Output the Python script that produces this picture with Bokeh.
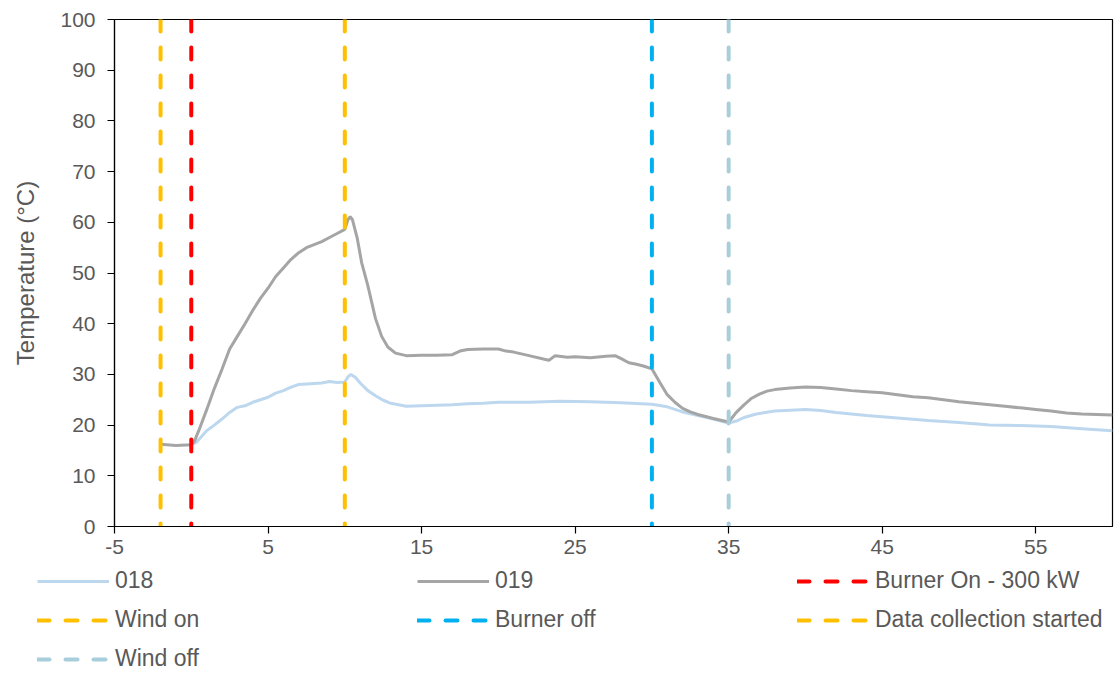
from bokeh.plotting import figure
from bokeh.layouts import column
from bokeh.models import FixedTicker, Legend, LegendItem, Range1d
from bokeh.embed import file_html
from bokeh.resources import INLINE

# ---- data ----
time_019 = [-2, -1, 0, 0.2, 0.5, 1, 1.5, 2, 2.5, 3, 3.5, 4, 4.5, 5, 5.5, 6, 6.5, 7, 7.5, 8,
            8.5, 9, 9.5, 10, 10.2, 10.35, 10.5, 10.8, 11.1, 11.5, 12, 12.4, 12.8, 13.3, 14,
            15, 16, 17, 17.5, 18, 19, 20, 20.5, 21, 22, 23, 23.3, 23.7, 24.5, 25, 26, 27,
            27.6, 28, 28.5, 29, 29.5, 30, 30.5, 31, 31.5, 32, 32.5, 33, 34, 35, 35.5, 36,
            36.5, 37, 37.5, 38, 39, 40, 41, 42, 43, 44, 45, 46, 47, 48, 49, 50, 51, 52, 53,
            54, 55, 56, 57, 58, 59, 60]
temp_019 = [16.2, 16.0, 16.1, 16.8, 19.0, 23.0, 27.2, 31.0, 35.0, 37.5, 40.0, 42.6, 45.0,
            47.0, 49.3, 51.0, 52.7, 54.0, 55.0, 55.6, 56.2, 57.0, 57.8, 58.6, 60.5, 61.1,
            60.5, 57.0, 52.0, 47.5, 41.0, 37.5, 35.4, 34.2, 33.7, 33.8, 33.8, 33.9, 34.6,
            34.9, 35.0, 35.0, 34.6, 34.4, 33.7, 33.0, 32.8, 33.7, 33.4, 33.5, 33.3, 33.6,
            33.7, 33.1, 32.3, 32.0, 31.6, 31.1, 28.5, 26.0, 24.5, 23.3, 22.6, 22.1, 21.3,
            20.6, 22.5, 24.0, 25.3, 26.1, 26.7, 27.0, 27.3, 27.5, 27.4, 27.1, 26.8, 26.6,
            26.4, 26.0, 25.6, 25.4, 25.0, 24.6, 24.3, 24.0, 23.7, 23.4, 23.1, 22.8, 22.4,
            22.2, 22.1, 22.0]

time_018 = [0, 0.3, 0.6, 1, 1.5, 2, 2.5, 3, 3.5, 4, 4.5, 5, 5.5, 6, 6.5, 7, 7.5, 8, 8.5, 9,
            9.5, 10, 10.2, 10.4, 10.7, 11, 11.5, 12, 12.5, 13, 14, 15, 16, 17, 18, 19, 20, 22,
            24, 26, 28, 30, 31, 32, 33, 34, 35, 35.5, 36, 36.8, 38, 40, 41, 42, 44, 46, 48,
            50, 52, 54, 56, 58, 60]
temp_018 = [16.3, 16.5, 17.5, 18.9, 20.0, 21.2, 22.5, 23.5, 23.8, 24.5, 25.0, 25.5, 26.3,
            26.8, 27.5, 28.0, 28.1, 28.2, 28.3, 28.6, 28.4, 28.5, 29.5, 30.0, 29.4, 28.3,
            26.8, 25.8, 24.9, 24.3, 23.7, 23.8, 23.9, 24.0, 24.2, 24.3, 24.5, 24.5, 24.7,
            24.6, 24.4, 24.1, 23.6, 22.6, 21.9, 21.2, 20.4, 20.8, 21.5, 22.2, 22.8, 23.1,
            22.9, 22.5, 21.9, 21.4, 20.9, 20.5, 20.0, 19.9, 19.7, 19.3, 18.9]

series_labels = ["018", "019"]
series_colors = ["#BDD7EE", "#A5A5A5"]

event_labels = ["Burner On - 300 kW", "Wind on", "Burner off", "Data collection started", "Wind off"]
event_times = [0, -2, 30, 10, 35]
event_colors = ["#FF0000", "#FFC000", "#00B0F0", "#FFC000", "#A9CEDB"]

x_ticks = [-5, 5, 15, 25, 35, 45, 55]
x_tick_labels = ["-5", "5", "15", "25", "35", "45", "55"]
y_ticks = [0, 10, 20, 30, 40, 50, 60, 70, 80, 90, 100]

FONT = "Liberation Sans"
TXT = "#595959"
DASH = "12 16"


def draw_series(fig):
    rs = [fig.line(time_018, temp_018, line_color=series_colors[0], line_width=3),
          fig.line(time_019, temp_019, line_color=series_colors[1], line_width=3)]
    es = []
    for t, c in zip(event_times, event_colors):
        es.append(fig.segment(x0=[t], y0=[100], x1=[t], y1=[0], line_color=c, line_width=4,
                              line_dash=DASH, line_cap="round"))
    return rs, es


# ---- main chart ----
p = figure(width=1118, height=561, output_backend="svg", toolbar_location=None,
           x_range=Range1d(-5, 60), y_range=Range1d(0, 100),
           min_border_left=114, min_border_top=19, min_border_right=6, min_border_bottom=35)
p.frame_align = False
p.grid.visible = False
p.outline_line_color = "#000000"
p.outline_line_width = 1.2
p.background_fill_color = "white"
p.border_fill_color = "white"

draw_series(p)

for ax in (p.xaxis[0], p.yaxis[0]):
    ax.axis_line_color = "#000000"
    ax.axis_line_width = 1.2
    ax.major_tick_line_color = "#000000"
    ax.major_tick_line_width = 1.2
    ax.major_tick_in = 0
    ax.major_tick_out = 7
    ax.minor_tick_line_color = None
    ax.major_label_text_font = FONT
    ax.major_label_text_font_size = "21px"
    ax.major_label_text_color = TXT

p.xaxis.ticker = FixedTicker(ticks=x_ticks)
p.xaxis.major_label_overrides = {t: s for t, s in zip(x_ticks, x_tick_labels)}
p.yaxis.ticker = FixedTicker(ticks=y_ticks)
p.xaxis.major_label_standoff = 6
p.yaxis.major_label_standoff = 12
p.yaxis.axis_label = "Temperature (°C)"
p.yaxis.axis_label_text_font = FONT
p.yaxis.axis_label_text_font_size = "24px"
p.yaxis.axis_label_text_font_style = "normal"
p.yaxis.axis_label_text_color = TXT
p.yaxis.axis_label_standoff = 18

# ---- legend strip: same series, drawn off-range so only the legend shows ----
lg = figure(width=1118, height=112, output_backend="svg", toolbar_location=None,
            x_axis_type=None, y_axis_type=None,
            min_border_left=0, min_border_right=0, min_border_top=0, min_border_bottom=0,
            x_range=Range1d(-5, 60), y_range=Range1d(200, 201))
lg.frame_align = False
lg.grid.visible = False
lg.outline_line_color = None

rs, es = draw_series(lg)
items = [LegendItem(label=lab, renderers=[r]) for lab, r in zip(series_labels, rs)]
items += [LegendItem(label=lab, renderers=[r]) for lab, r in zip(event_labels, es)]

legend = Legend(items=items, location=(37, 1), orientation="horizontal", ncols=3,
                glyph_width=72, glyph_height=20, label_height=20, label_width=290,
                label_standoff=6, spacing=12, padding=0, margin=0,
                label_text_font=FONT, label_text_font_size="23px", label_text_color=TXT,
                background_fill_alpha=0, border_line_alpha=0)
lg.add_layout(legend, "center")

open("out.html", "w").write(file_html(column(p, lg, spacing=0), INLINE))
